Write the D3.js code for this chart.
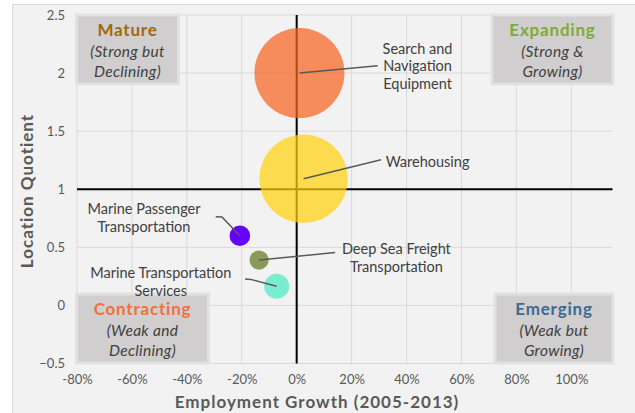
<!DOCTYPE html>
<html>
<head>
<meta charset="utf-8">
<script src="https://cdn.jsdelivr.net/npm/d3@7"></script>
<style>
  body { margin: 0; background: #fff; }
  text { font-family: Lato, "Open Sans", sans-serif; }
</style>
</head>
<body>
<div id="chart"></div>
<script>
(function(){

// data
var industries = ["Search and Navigation Equipment", "Warehousing",
                  "Marine Passenger Transportation", "Deep Sea Freight Transportation",
                  "Marine Transportation Services"]
var growth = [1, 2.5, -20.7, -13.7, -7.3]          // employment growth 2005-2013, %
var lq = [2.0, 1.09, 0.6, 0.39, 0.165]             // location quotient
var employment = [2000, 1930, 105, 90, 155]       // bubble size
var colors = ["#f66220", "#ffd30e", "#6600ff", "#8a9a5a", "#78edd0"]

var xTicks = [-80, -60, -40, -20, 0, 20, 40, 60, 80, 100]
var yTicks = [-0.5, 0, 0.5, 1, 1.5, 2, 2.5]

// label lines + leader anchors, in data units
var labelLines = [["Search and", "Navigation", "Equipment"], ["Warehousing"],
                  ["Marine Passenger", "Transportation"], ["Deep Sea Freight", "Transportation"],
                  ["Marine Transportation", "Services"]]
var labelAt = [[44, 2.058], [32.4, 1.237], [-55.6, 0.755], [36.3, 0.41], [-49.5, 0.2]]
var labelAnchor = ["middle", "start", "middle", "middle", "middle"]
var leaders = [
  [[29.5, 2.063]],
  [[30.7, 1.254]],
  [[-29.5, 0.764], [-27.2, 0.762]],
  [[14, 0.455]],
  [[-18.8, 0.227], [-16.7, 0.224]]
]

var quadrants = [
  {name: "Mature", sub: ["(Strong but", "Declining)"], color: "#9e6a0c", corner: "tl", w: 105},
  {name: "Expanding", sub: ["(Strong &", "Growing)"], color: "#7fab35", corner: "tr", w: 124},
  {name: "Contracting", sub: ["(Weak and", "Declining)"], color: "#f4703a", corner: "bl", w: 135},
  {name: "Emerging", sub: ["(Weak but", "Growing)"], color: "#3c6a94", corner: "br", w: 121}
]

var W = 635, H = 413
var plot = {left: 77, right: 612.5, top: 15, bottom: 363.5}

var svg = d3.select("#chart").append("svg")
    .attr("width", W)
    .attr("height", H)

svg.append("rect")
    .attr("x", 12.5).attr("y", 4.5)
    .attr("width", 700).attr("height", 500)
    .attr("fill", "#f2f2f2")
    .attr("stroke", "#d9d9d9")

var x = d3.scaleLinear().domain([-80, 115]).range([plot.left, plot.right])
var y = d3.scaleLinear().domain([-0.5, 2.5]).range([plot.bottom, plot.top])
var r = d3.scaleSqrt().domain([0, 2000]).range([0, 45])

// grid
svg.append("g").selectAll("line")
    .data(xTicks)
    .enter().append("line")
    .attr("x1", d => x(d)).attr("x2", d => x(d))
    .attr("y1", plot.top).attr("y2", plot.bottom)
    .attr("stroke", "#d9d9d9")
svg.append("g").selectAll("line")
    .data(yTicks)
    .enter().append("line")
    .attr("x1", plot.left).attr("x2", plot.right)
    .attr("y1", d => y(d)).attr("y2", d => y(d))
    .attr("stroke", "#d9d9d9")

// axes (labels only)
svg.append("g")
    .attr("transform", "translate(0," + (plot.bottom + 8) + ")")
    .call(d3.axisBottom(x).tickValues(xTicks).tickSize(0).tickFormat(d => d + "%"))
svg.append("g")
    .attr("transform", "translate(" + (plot.left - 9) + ",0)")
    .call(d3.axisLeft(y).tickValues(yTicks).tickSize(0).tickFormat(d3.format("")))
svg.selectAll(".domain").remove()
svg.selectAll(".tick text")
    .attr("fill", "#595959")
    .style("font-size", "13px")
    .style("font-family", "Lato, sans-serif")

svg.append("text")
    .attr("x", 317).attr("y", 408)
    .attr("text-anchor", "middle")
    .attr("fill", "#595959")
    .style("font-size", "17px")
    .style("letter-spacing", "1px")
    .style("font-weight", "bold")
    .text("Employment Growth (2005-2013)")
svg.append("text")
    .attr("transform", "translate(33,191) rotate(-90)")
    .attr("text-anchor", "middle")
    .attr("fill", "#595959")
    .style("font-size", "17px")
    .style("letter-spacing", "1px")
    .style("font-weight", "bold")
    .text("Location Quotient")

// quadrant boxes
quadrants.forEach(function(q) {
  var h = 72
  var bx = q.corner[1] == "l" ? plot.left - 2 : plot.right + 2 - q.w
  var by = q.corner[0] == "t" ? plot.top - 1.5 : plot.bottom + 1 - h
  var g = svg.append("g").attr("transform", "translate(" + bx + "," + by + ")")
  g.append("rect")
      .attr("x", 1.5).attr("y", 1.5)
      .attr("width", q.w - 3).attr("height", h - 3)
      .attr("fill", "#d0cece")
      .attr("stroke", "#e2e1e1")
      .attr("stroke-width", 3)
  g.append("text")
      .attr("x", q.w / 2).attr("y", 22)
      .attr("text-anchor", "middle")
      .attr("fill", q.color)
      .style("font-size", "17px")
      .style("letter-spacing", "0.8px")
      .style("font-weight", "bold")
      .text(q.name)
  g.selectAll(".sub")
      .data(q.sub)
      .enter().append("text")
      .attr("x", q.w / 2)
      .attr("y", (d, i) => 43 + i * 20)
      .attr("text-anchor", "middle")
      .attr("fill", "#404040")
      .style("font-size", "15.5px")
      .style("letter-spacing", "0.3px")
      .style("font-style", "italic")
      .text(d => d)
})

// quadrant dividers
svg.append("line")
    .attr("x1", x(0)).attr("x2", x(0))
    .attr("y1", plot.top).attr("y2", plot.bottom)
    .attr("stroke", "#000").attr("stroke-width", 2)
svg.append("line")
    .attr("x1", plot.left).attr("x2", plot.right)
    .attr("y1", y(1)).attr("y2", y(1))
    .attr("stroke", "#000").attr("stroke-width", 2)

// bubbles
var table = industries.map(function(d, i) {
  return {name: d, growth: growth[i], lq: lq[i], size: employment[i], color: colors[i], i: i}
})

svg.append("g").selectAll("circle")
    .data(table)
    .enter().append("circle")
    .attr("cx", d => x(d.growth))
    .attr("cy", d => y(d.lq))
    .attr("r", d => r(d.size))
    .attr("fill", d => d.color)
    .attr("fill-opacity", d => d.size > 1000 ? 0.72 : 1)

// leader lines
var line = d3.line().x(d => x(d[0])).y(d => y(d[1]))
svg.append("g").selectAll("path")
    .data(table)
    .enter().append("path")
    .attr("d", d => line([[d.growth, d.lq]].concat(leaders[d.i].slice().reverse())))
    .attr("fill", "none")
    .attr("stroke", "#595959")
    .attr("stroke-width", 1.5)

// labels
table.forEach(function(d) {
  var lines = labelLines[d.i]
  var cy = y(labelAt[d.i][1])
  svg.append("g").selectAll("text")
      .data(lines)
      .enter().append("text")
      .attr("x", x(labelAt[d.i][0]))
      .attr("y", (t, j) => cy + (j - (lines.length - 1) / 2) * 17.7)
      .attr("dy", "0.35em")
      .attr("text-anchor", labelAnchor[d.i])
      .attr("fill", "#404040")
      .style("font-size", "14.5px")
      .text(t => t)
})

})();
</script>
</body>
</html>
